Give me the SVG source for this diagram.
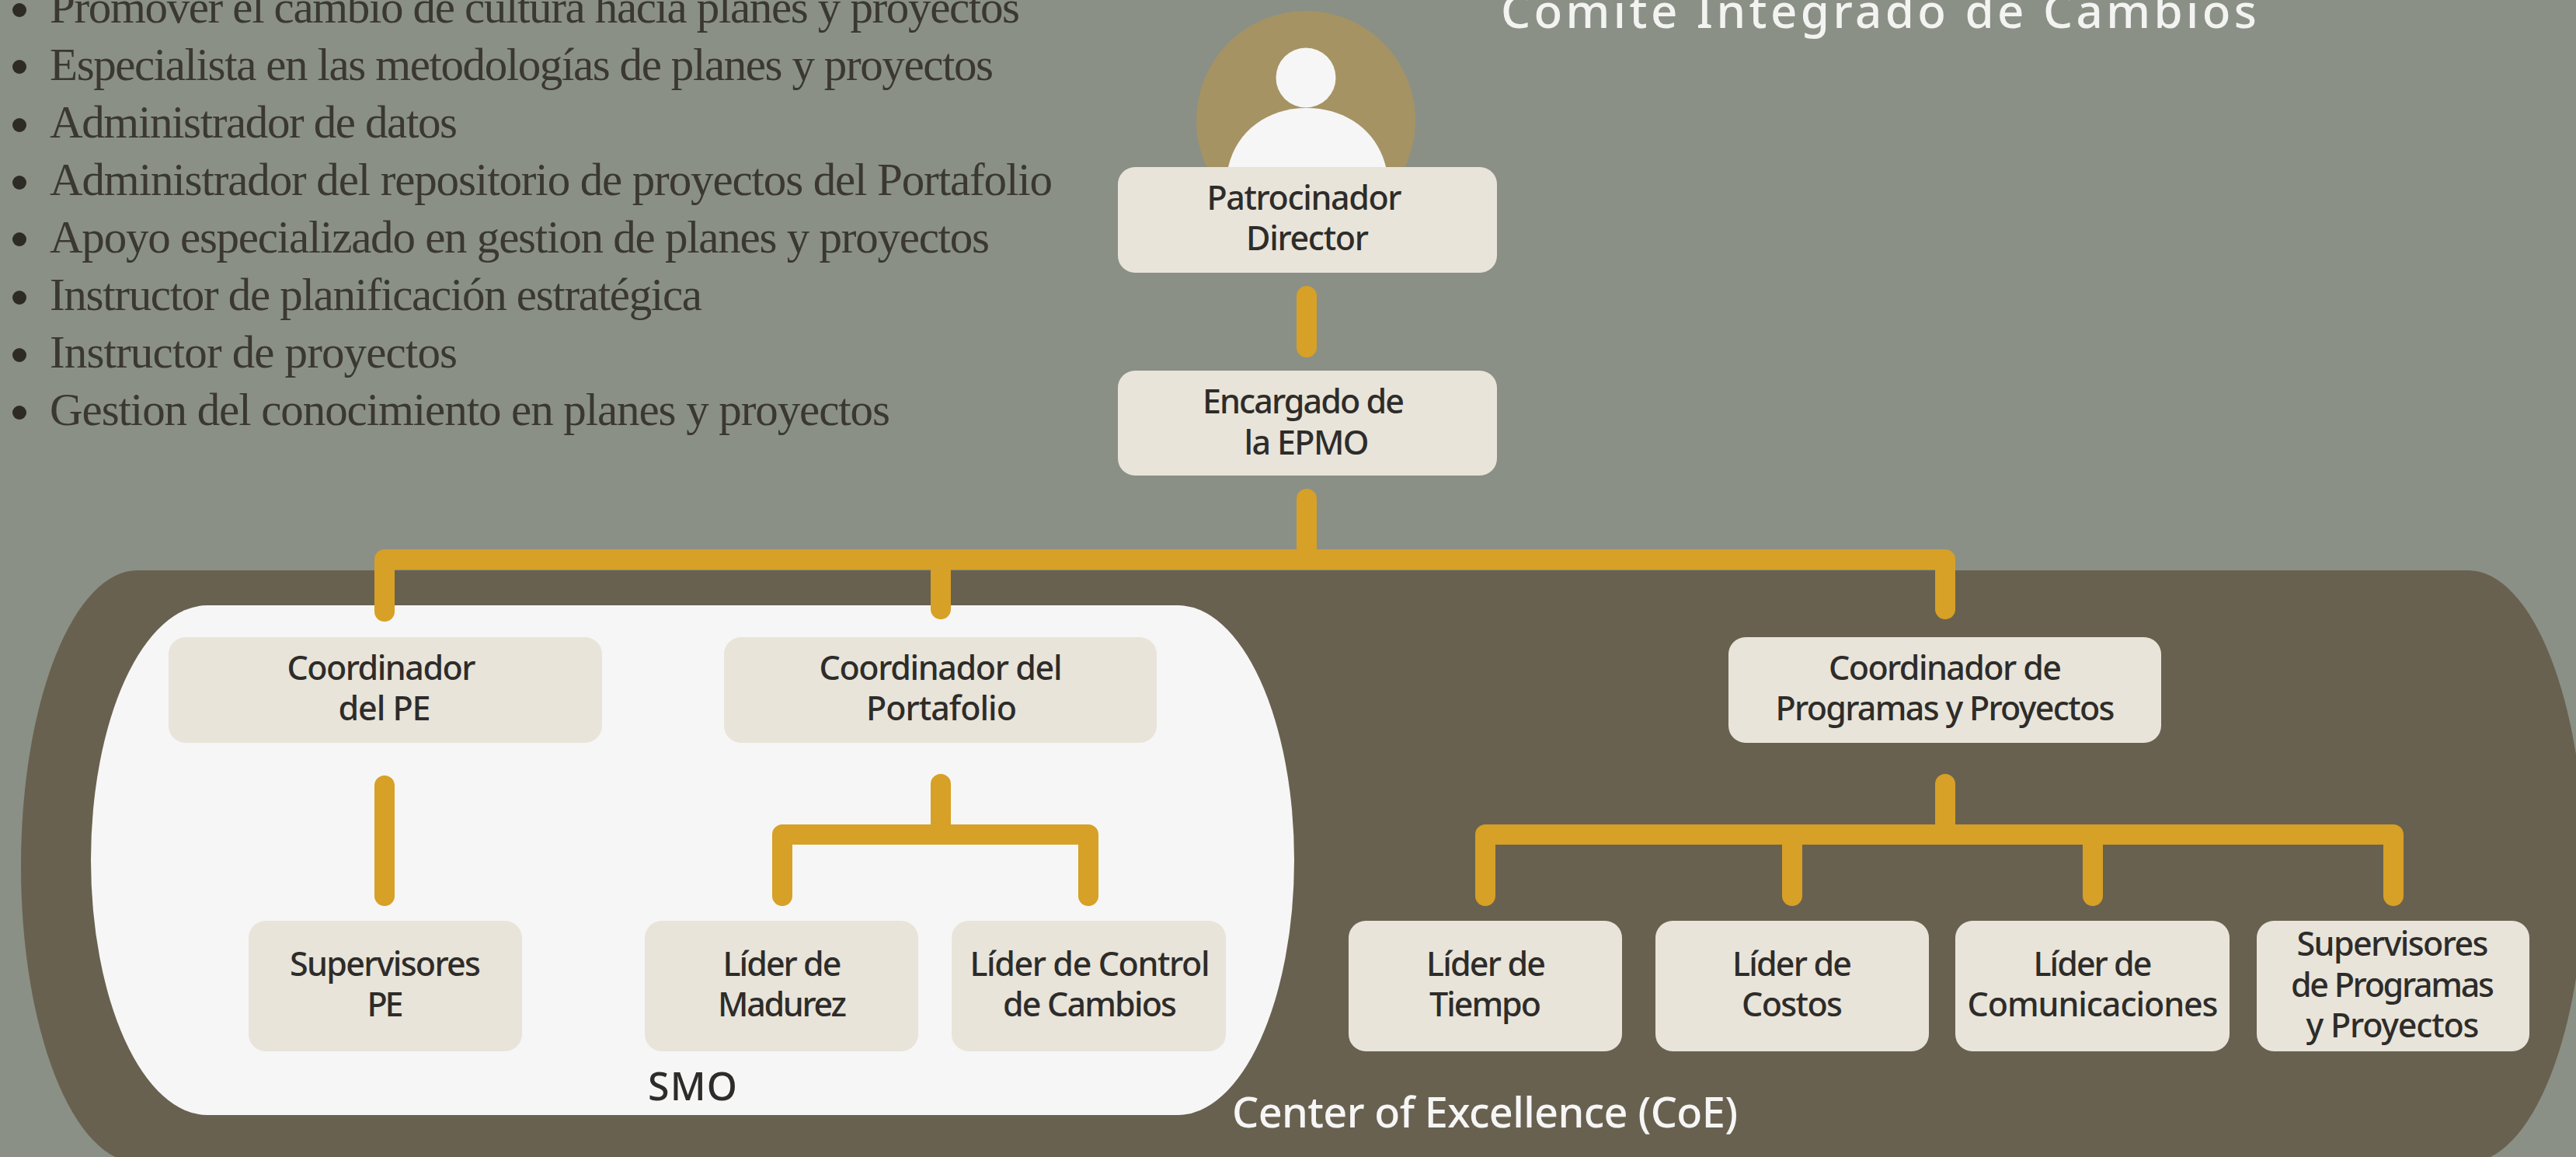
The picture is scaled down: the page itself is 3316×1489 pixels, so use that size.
<svg xmlns="http://www.w3.org/2000/svg" width="3316" height="1489" viewBox="0 0 3316 1489">
<style>
.bg{fill:#8a9086}
.box{fill:#e8e4d9}
.n{font-family:"Noto Sans","Open Sans",sans-serif;font-size:43px;font-weight:500;fill:#2e2c2a;text-anchor:middle}
.l{font-family:"Liberation Serif",serif;font-size:59px;fill:#3a3831}
.c{fill:none;stroke:#d7a026;stroke-width:26;stroke-linecap:round;stroke-linejoin:round}
.w{fill:#f6f6f6}
</style>
<rect class="bg" width="3316" height="1489"/>
<g id="coe"><rect x="27" y="734" width="3300" height="762" rx="150" ry="380" fill="#696150"/></g>
<g id="smo"><rect class="w" x="117" y="779" width="1549" height="656" rx="150" ry="328"/></g>
<g id="list">
<g fill="#2e2b26"><circle cx="25" cy="13" r="9"/><circle cx="25" cy="86" r="9"/><circle cx="25" cy="161" r="9"/><circle cx="25" cy="235" r="9"/><circle cx="25" cy="308" r="9"/><circle cx="25" cy="383" r="9"/><circle cx="25" cy="457" r="9"/><circle cx="25" cy="531" r="9"/></g>
<text class="l" x="64" y="29" textLength="1249">Promover el cambio de cultura hacia planes y proyectos</text>
<text class="l" x="64" y="103" textLength="1215">Especialista en las metodologías de planes y proyectos</text>
<text class="l" x="64" y="177" textLength="525">Administrador de datos</text>
<text class="l" x="64" y="251" textLength="1291">Administrador del repositorio de proyectos del Portafolio</text>
<text class="l" x="64" y="325" textLength="1210">Apoyo especializado en gestion de planes y proyectos</text>
<text class="l" x="64" y="399" textLength="840">Instructor de planificación estratégica</text>
<text class="l" x="64" y="473" textLength="525">Instructor de proyectos</text>
<text class="l" x="64" y="547" textLength="1082">Gestion del conocimiento en planes y proyectos</text>
</g>
<text id="title" x="1932" y="36" textLength="973" font-family="Noto Sans, sans-serif" font-weight="500" font-size="60" fill="#f3f3f1">Comité Integrado de Cambios</text>
<g id="sponsor-icon"><circle cx="1681" cy="155" r="141" fill="#a69363"/><circle class="w" cx="1681" cy="100" r="38.5"/><path class="w" d="M1581 215C1592 168 1632 139 1682 139C1732 139 1773 168 1784 215Z"/></g>
<g id="connectors">
<path class="c" d="M1682 381V447M1682 642V720M495 787V720H2504V784M1211 720V784M495 1011V1153M1211 1009V1074M1007 1153V1074H1401V1153M2504 1009V1074M1912 1153V1074H3081V1153M2307 1074V1153M2694 1074V1153"/>
</g>
<g id="n-patrocinador"><rect class="box" x="1439" y="215" width="488" height="136" rx="22"/><text class="n" x="1679" y="270" textLength="251">Patrocinador</text><text class="n" x="1683" y="322" textLength="158">Director</text></g>
<g id="n-encargado"><rect class="box" x="1439" y="477" width="488" height="135" rx="22"/><text class="n" x="1678" y="532" textLength="260">Encargado de</text><text class="n" x="1682" y="585" textLength="161">la EPMO</text></g>
<g id="n-pe"><rect class="box" x="217" y="820" width="558" height="136" rx="22"/><text class="n" x="491" y="875" textLength="243">Coordinador</text><text class="n" x="495" y="927" textLength="119">del PE</text></g>
<g id="n-portafolio"><rect class="box" x="932" y="820" width="557" height="136" rx="22"/><text class="n" x="1211" y="875" textLength="313">Coordinador del</text><text class="n" x="1212" y="927" textLength="194">Portafolio</text></g>
<g id="n-programas"><rect class="box" x="2225" y="820" width="557" height="136" rx="22"/><text class="n" x="2504" y="875" textLength="300">Coordinador de</text><text class="n" x="2504" y="927" textLength="437">Programas y Proyectos</text></g>
<g id="n-suppe"><rect class="box" x="320" y="1185" width="352" height="168" rx="22"/><text class="n" x="496" y="1256" textLength="246">Supervisores</text><text class="n" x="496" y="1308" textLength="47">PE</text></g>
<g id="n-madurez"><rect class="box" x="830" y="1185" width="352" height="168" rx="22"/><text class="n" x="1007" y="1256" textLength="153">Líder de</text><text class="n" x="1007" y="1308" textLength="166">Madurez</text></g>
<g id="n-control"><rect class="box" x="1225" y="1185" width="353" height="168" rx="22"/><text class="n" x="1403" y="1256" textLength="309">Líder de Control</text><text class="n" x="1403" y="1308" textLength="224">de Cambios</text></g>
<g id="n-tiempo"><rect class="box" x="1736" y="1185" width="352" height="168" rx="22"/><text class="n" x="1913" y="1256" textLength="154">Líder de</text><text class="n" x="1912" y="1308" textLength="144">Tiempo</text></g>
<g id="n-costos"><rect class="box" x="2131" y="1185" width="352" height="168" rx="22"/><text class="n" x="2307" y="1256" textLength="154">Líder de</text><text class="n" x="2307" y="1308" textLength="130">Costos</text></g>
<g id="n-comunicaciones"><rect class="box" x="2517" y="1185" width="353" height="168" rx="22"/><text class="n" x="2694" y="1256" textLength="153">Líder de</text><text class="n" x="2694" y="1308" textLength="323">Comunicaciones</text></g>
<g id="n-supprog"><rect class="box" x="2905" y="1185" width="351" height="168" rx="22"/><text class="n" x="3080" y="1230" textLength="247">Supervisores</text><text class="n" x="3080" y="1283" textLength="262">de Programas</text><text class="n" x="3080" y="1335" textLength="223">y Proyectos</text></g>
<text id="smo-label" x="834" y="1416" textLength="115" font-family="Noto Sans, sans-serif" font-weight="500" font-size="50" fill="#2e2c2a">SMO</text>
<text id="coe-label" x="1586" y="1451" textLength="651" font-family="Noto Sans, sans-serif" font-weight="500" font-size="54" fill="#f6f6f6">Center of Excellence (CoE)</text>
</svg>
